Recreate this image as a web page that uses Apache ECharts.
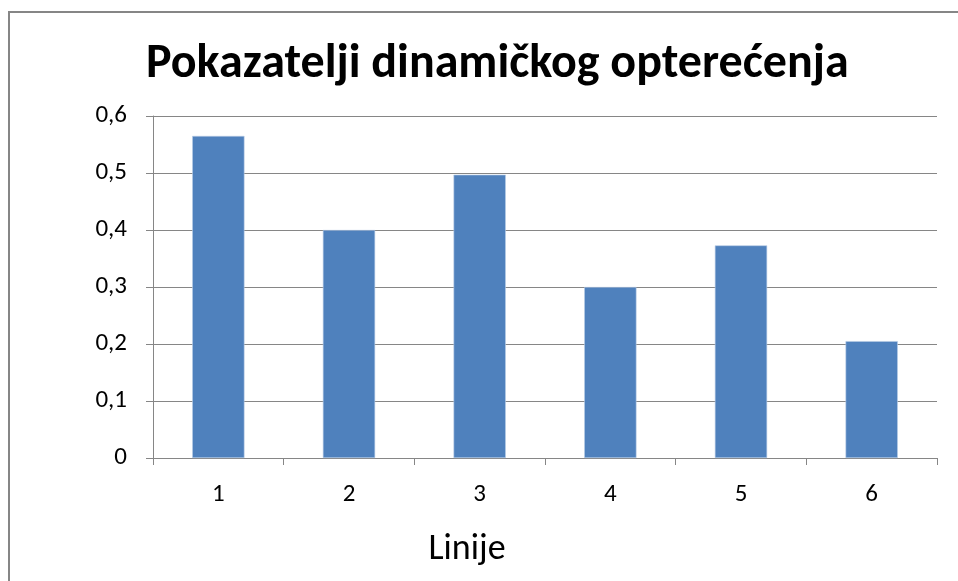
<!DOCTYPE html>
<html>
<head>
<meta charset="utf-8">
<script src="https://cdn.jsdelivr.net/npm/echarts@6/dist/echarts.min.js"></script>
<style>
html,body{margin:0;padding:0;background:#fff;}
#c{width:958px;height:581px;}
</style>
</head>
<body>
<div id="c"></div>
<script>
var titleText = 'Pokazatelji dinamičkog opterećenja';
var xAxisName = 'Linije';
var categories = ['1', '2', '3', '4', '5', '6'];
var values = [0.565, 0.40, 0.497, 0.30, 0.373, 0.205];
var yMin = 0, yMax = 0.6, yStep = 0.1;

var FONT = 'Calibri, Carlito, Lato, sans-serif';
var chart = echarts.init(document.getElementById('c'), null, {renderer: 'canvas'});
chart.setOption({
  backgroundColor: '#fff',
  animation: false,
  title: {
    text: titleText,
    left: 146,
    top: 41,
    padding: 0,
    textStyle: {fontFamily: FONT, fontWeight: 'bold', fontSize: 48, color: '#000'}
  },
  graphic: [{
    type: 'rect',
    shape: {x: 9, y: 12, width: 1100, height: 1000},
    style: {fill: 'none', stroke: '#868686', lineWidth: 2},
    silent: true
  }],
  grid: {left: 153, right: 21, top: 116, bottom: 123, containLabel: false},
  xAxis: {
    type: 'category',
    data: categories,
    name: xAxisName,
    nameLocation: 'middle',
    nameGap: 74,
    nameTextStyle: {fontFamily: FONT, fontSize: 36, color: '#000', padding: [0, 156, 0, 0]},
    axisLine: {lineStyle: {color: '#868686', width: 1}},
    axisTick: {show: true, length: 7, inside: false, lineStyle: {color: '#868686'}},
    axisLabel: {fontFamily: FONT, fontSize: 25, color: '#000', margin: 24}
  },
  yAxis: {
    type: 'value',
    min: yMin, max: yMax, interval: yStep,
    axisLine: {show: true, lineStyle: {color: '#868686', width: 1}},
    axisTick: {show: true, length: 7, lineStyle: {color: '#868686'}},
    splitLine: {show: true, lineStyle: {color: '#868686', width: 1}},
    axisLabel: {
      fontFamily: FONT, fontSize: 25, color: '#000', margin: 26,
      formatter: function (v) { return String(+v.toFixed(1)).replace('.', ','); }
    }
  },
  series: [{
    type: 'bar',
    data: values,
    barWidth: '40%',
    itemStyle: {color: '#4F81BD', borderColor: '#b9cde5', borderWidth: 0.6}
  }]
});
</script>
</body>
</html>
